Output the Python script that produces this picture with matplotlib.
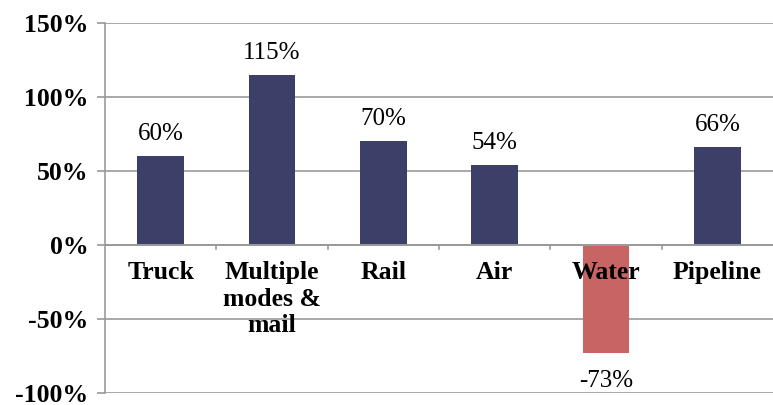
import numpy as np
import matplotlib.pyplot as plt

categories = ['Truck', 'Multiple\nmodes &\nmail', 'Rail', 'Air', 'Water', 'Pipeline']
values = [60, 115, 70, 54, -73, 66]
yticks = [-100, -50, 0, 50, 100, 150]

navy = '#3d3f69'
red = '#c86464'
grid = '#9a9a9a'

plt.rcParams['font.family'] = ['Liberation Serif', 'DejaVu Serif']

fig = plt.figure(figsize=(7.73, 4.05), dpi=100)
ax = fig.add_axes([105 / 773, 1 - 393 / 405, 668 / 773, 370 / 405])

x = np.arange(len(categories))
colors = [red if v < 0 else navy for v in values]
ax.bar(x, values, width=0.42, color=colors, zorder=3)

ax.set_xlim(-0.5, len(categories) - 0.5)
ax.set_ylim(-100, 150)
ax.set_yticks(yticks)
ax.set_yticklabels([f'{t}%' for t in yticks], fontsize=18.5, fontweight='bold')
ax.tick_params(axis='y', length=6, color=grid, width=1.2, pad=6)
ax.grid(axis='y', color=grid, linewidth=1.2, zorder=0)
ax.set_xticks([])

for s in ['top', 'right', 'bottom']:
    ax.spines[s].set_visible(False)
ax.spines['left'].set_color(grid)
ax.spines['left'].set_linewidth(1.2)

# zero line with small category separators
ax.axhline(0, color=grid, linewidth=1.4, zorder=4)
for b in np.arange(0.5, len(categories) - 0.5, 1.0):
    ax.plot([b, b], [0, -3], color=grid, linewidth=1.2, zorder=4)

# category labels just below zero
for xi, c in zip(x, categories):
    ax.text(xi, -11, c, ha='center', va='top', fontsize=18.5, fontweight='bold',
            linespacing=1.2, zorder=5)

# value labels
for xi, v in zip(x, values):
    if v >= 0:
        ax.annotate(f'{v}%', (xi, v), xytext=(0, 8), textcoords='offset points',
                    ha='center', va='bottom', fontsize=18, zorder=5)
    else:
        ax.annotate(f'{v}%', (xi, v), xytext=(0, -12), textcoords='offset points',
                    ha='center', va='top', fontsize=18, zorder=5)

fig.savefig('out.png', dpi=100)
